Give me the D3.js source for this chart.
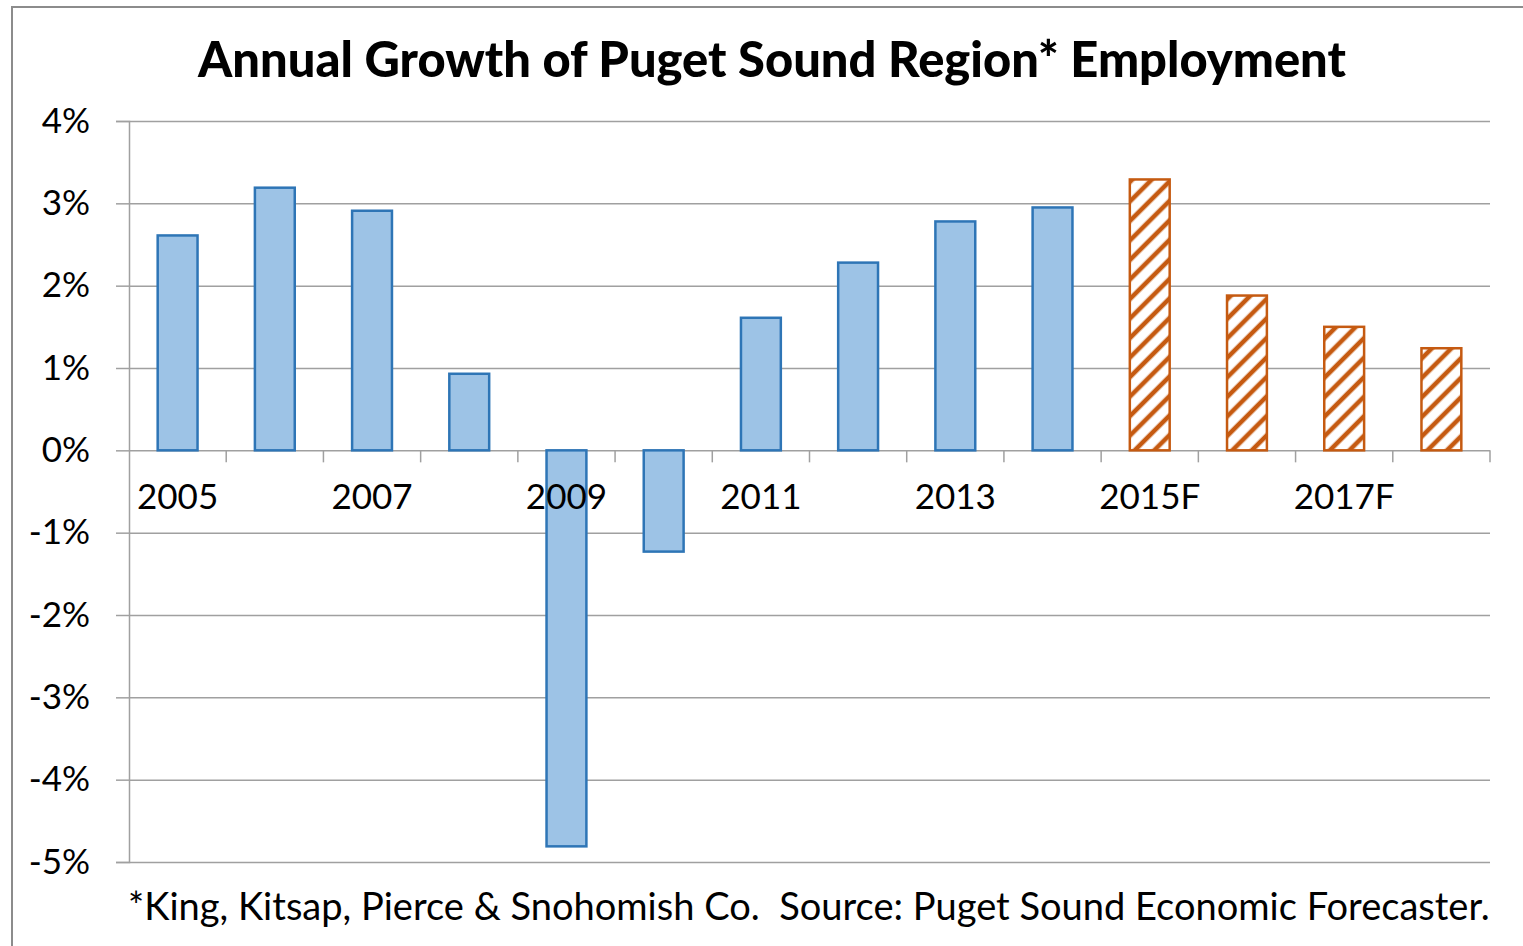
<!DOCTYPE html>
<html>
<head>
<meta charset="utf-8">
<script src="https://cdn.jsdelivr.net/npm/d3@7"></script>
<style>
  body { margin: 0; background: #fff; }
  text { font-family: Lato, "Open Sans", sans-serif; fill: #000; }
</style>
</head>
<body>
<div id="chart"></div>
<script>
// chart data
var years = ["2005", "2006", "2007", "2008", "2009", "2010", "2011",
  "2012", "2013", "2014", "2015F", "2016F", "2017F", "2018F"];
var growth = [2.61, 3.19, 2.91, 0.93, -4.81, -1.23, 1.61,
  2.28, 2.78, 2.95, 3.29, 1.88, 1.50, 1.24];
var isForecast = [false, false, false, false, false, false, false,
  false, false, false, true, true, true, true];
var yTicks = [-5, -4, -3, -2, -1, 0, 1, 2, 3, 4];
var xLabels = ["2005", "2007", "2009", "2011", "2013", "2015F", "2017F"];

var titleText = "Annual Growth of Puget Sound Region* Employment";
var noteText = "*King, Kitsap, Pierce & Snohomish Co.  Source: Puget Sound Economic Forecaster.";

const width = 1523;
const height = 946;
const plot = { left: 129, right: 1490, top: 121, bottom: 862 };

const svg = d3.select("#chart").append("svg")
  .attr("width", width)
  .attr("height", height);

// hatch for the forecast bars
var defs = svg.append("defs");
defs.append("pattern")
  .attr("id", "hatch")
  .attr("patternUnits", "userSpaceOnUse")
  .attr("width", 13.8)
  .attr("height", 13.8)
  .attr("patternTransform", "rotate(45)")
  .call(function (p) {
    p.append("rect").attr("width", 13.8).attr("height", 13.8).attr("fill", "#fff");
    p.append("line")
      .attr("x1", 3).attr("y1", 0).attr("x2", 3).attr("y2", 13.8)
      .attr("stroke", "#C55A11").attr("stroke-width", 4.6);
  });

// outer frame (right/bottom edges run off the picture)
svg.append("path")
  .attr("d", "M12," + (height + 5) + "V7H" + (width + 5))
  .attr("fill", "none")
  .attr("stroke", "#8c8c8c")
  .attr("stroke-width", 2);

var x = d3.scaleBand()
  .domain(years)
  .range([plot.left, plot.right])
  .paddingInner(0.59)
  .paddingOuter(0.295);

var y = d3.scaleLinear()
  .domain([-5, 4])
  .range([plot.bottom, plot.top]);

// gridlines + y axis
var yAxis = svg.append("g")
  .attr("transform", "translate(" + plot.left + ",0)")
  .call(d3.axisLeft(y)
    .tickValues(yTicks)
    .tickSize(13)
    .tickPadding(26)
    .tickFormat(function (d) { return d + "%"; }));
yAxis.select(".domain").attr("stroke", "#a0a0a0").attr("stroke-width", 1.5);
yAxis.selectAll(".tick line").attr("stroke", "#a0a0a0").attr("stroke-width", 1.5);
yAxis.selectAll(".tick text")
  .style("font-size", "35px")
  .attr("fill", "#000")
  .style("font-family", "Lato, sans-serif");
yAxis.selectAll(".tick")
  .append("line")
  .attr("x1", 0)
  .attr("x2", plot.right - plot.left)
  .attr("stroke", "#a0a0a0")
  .attr("stroke-width", 1.5);

// category boundary ticks under the zero line
var step = x.step();
var bounds = d3.range(years.length + 1).map(function (i) { return plot.left + i * step; });
svg.append("g")
  .selectAll("line")
  .data(bounds.slice(1))
  .enter()
  .append("line")
  .attr("x1", function (d) { return d; })
  .attr("x2", function (d) { return d; })
  .attr("y1", y(0))
  .attr("y2", y(0) + 12)
  .attr("stroke", "#a0a0a0")
  .attr("stroke-width", 1.5);

// bars
svg.append("g")
  .selectAll("rect")
  .data(years)
  .enter()
  .append("rect")
  .attr("x", function (d) { return x(d); })
  .attr("width", x.bandwidth())
  .attr("y", function (d, i) { return y(Math.max(0, growth[i])); })
  .attr("height", function (d, i) { return Math.abs(y(growth[i]) - y(0)); })
  .attr("fill", function (d, i) { return isForecast[i] ? "url(#hatch)" : "#9DC3E6"; })
  .attr("stroke", function (d, i) { return isForecast[i] ? "#C55A11" : "#2E75B6"; })
  .attr("stroke-width", 2.5);

// x labels (every other year)
svg.append("g")
  .selectAll("text")
  .data(xLabels)
  .enter()
  .append("text")
  .attr("x", function (d) { return x(d) + x.bandwidth() / 2; })
  .attr("y", 509)
  .attr("text-anchor", "middle")
  .style("font-size", "35px")
  .text(function (d) { return d; });

// fit a text to a width by changing the font size
function fitWidth(sel, target) {
  var w = sel.node().getComputedTextLength();
  var fs = parseFloat(sel.style("font-size"));
  sel.style("font-size", (fs * target / w) + "px");
}

var title = svg.append("text")
  .attr("x", 772)
  .attr("y", 77)
  .attr("text-anchor", "middle")
  .style("font-size", "42px")
  .style("font-weight", "900")
  .text(titleText);
fitWidth(title, 1148);

var note = svg.append("text")
  .attr("x", 128)
  .attr("y", 920)
  .style("font-size", "32px")
  .style("white-space", "pre")
  .text(noteText);
fitWidth(note, 1362);
</script>
</body>
</html>
